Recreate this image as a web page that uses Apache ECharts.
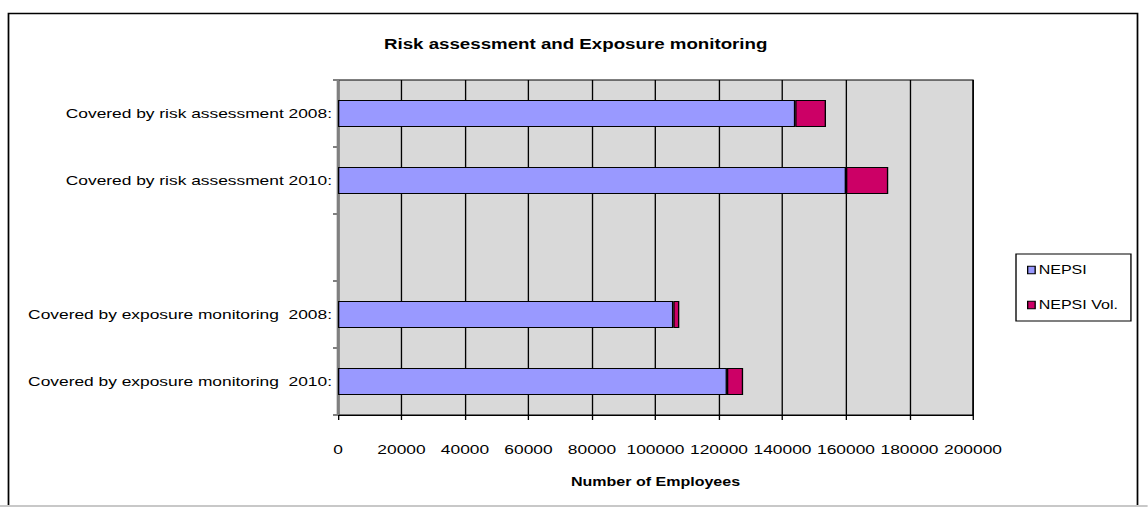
<!DOCTYPE html>
<html>
<head>
<meta charset="utf-8">
<script src="https://cdn.jsdelivr.net/npm/echarts@6/dist/echarts.min.js"></script>
<style>
html,body{margin:0;padding:0;background:#fff;overflow:hidden;width:1148px;height:507px;}
#c{height:507px;transform-origin:0 0;}
</style>
</head>
<body>
<div id="c"></div>
<script>
const categories = [
  'Covered by risk assessment 2008:',
  'Covered by risk assessment 2010:',
  '',
  'Covered by exposure monitoring  2008:',
  'Covered by exposure monitoring  2010:'
];
const nepsi = [144000, 160000, null, 105600, 122500];
const nepsiVol = [9700, 13300, null, 1900, 5100];
const xTicks = { min: 0, max: 200000, interval: 20000 };

// the reference is horizontally stretched; draw in a narrower space and stretch
const S = 1.336;
const W = 1148 / S;
const X = v => v / S;
const el = document.getElementById('c');
el.style.width = W + 'px';
el.style.transform = 'scaleX(' + S + ')';

const FONT = '"Liberation Sans", Arial, sans-serif';
const chart = echarts.init(el, null, { renderer: 'svg', width: W, height: 507 });
chart.setOption({
  backgroundColor: '#fff',
  animation: false,
  title: {
    text: 'Risk assessment and Exposure monitoring',
    left: X(569), top: 32, textAlign: 'center',
    textStyle: { fontFamily: FONT, fontSize: 14, fontWeight: 'bold', color: '#000' }
  },
  graphic: [
    {
      type: 'rect', shape: { x: X(8.5), y: 13.5, width: X(1129), height: 520 },
      style: { fill: 'none', stroke: '#000', lineWidth: 1.3 }, z: -1
    },
    {
      type: 'rect', shape: { x: 0, y: 505, width: W, height: 2 },
      style: { fill: '#C8C8C8' }, z: 10
    }
  ],
  legend: {
    orient: 'vertical', left: X(1016), top: 254,
    padding: [10, X(13), 10, X(11)],
    itemGap: 23, itemWidth: X(7.5), itemHeight: 7.5,
    borderColor: '#000', borderWidth: 1,
    textStyle: { fontFamily: FONT, fontSize: 12, color: '#000', padding: [0, 0, 0, -2.4] },
    data: [
      { name: 'NEPSI', icon: 'rect', itemStyle: { borderColor: '#000', borderWidth: 1 } },
      { name: 'NEPSI Vol.', icon: 'rect', itemStyle: { borderColor: '#000', borderWidth: 1 } }
    ]
  },
  grid: {
    left: X(338), top: 80, width: X(635), height: 335,
    show: true, backgroundColor: '#D9D9D9', borderColor: '#000', borderWidth: 1
  },
  xAxis: {
    type: 'value', min: xTicks.min, max: xTicks.max, interval: xTicks.interval,
    name: 'Number of Employees', nameLocation: 'middle', nameGap: 61,
    nameTextStyle: { fontFamily: FONT, fontSize: 12, fontWeight: 'bold', color: '#000' },
    axisLine: { show: true, lineStyle: { color: '#000', width: 1 } },
    axisTick: { show: true, length: 5, lineStyle: { color: '#000' } },
    axisLabel: { margin: 28, fontFamily: FONT, fontSize: 13, color: '#000', formatter: v => String(v) },
    splitLine: { show: true, lineStyle: { color: '#000', width: 1 } }
  },
  yAxis: {
    type: 'category', inverse: true, data: categories,
    axisLine: { show: true, lineStyle: { color: '#808080', width: 2 } },
    axisTick: { show: true, length: X(5), lineStyle: { color: '#808080', width: 2 } },
    axisLabel: { margin: X(6), fontFamily: FONT, fontSize: 13, color: '#000' },
    splitLine: { show: false }
  },
  series: [
    {
      name: 'NEPSI', type: 'bar', stack: 'a', data: nepsi, barWidth: 27,
      itemStyle: { color: '#9999FF', borderColor: '#000', borderWidth: 1 }
    },
    {
      name: 'NEPSI Vol.', type: 'bar', stack: 'a', data: nepsiVol, barWidth: 27,
      itemStyle: { color: '#CC0066', borderColor: '#000', borderWidth: 1 }
    }
  ]
});
</script>
</body>
</html>
